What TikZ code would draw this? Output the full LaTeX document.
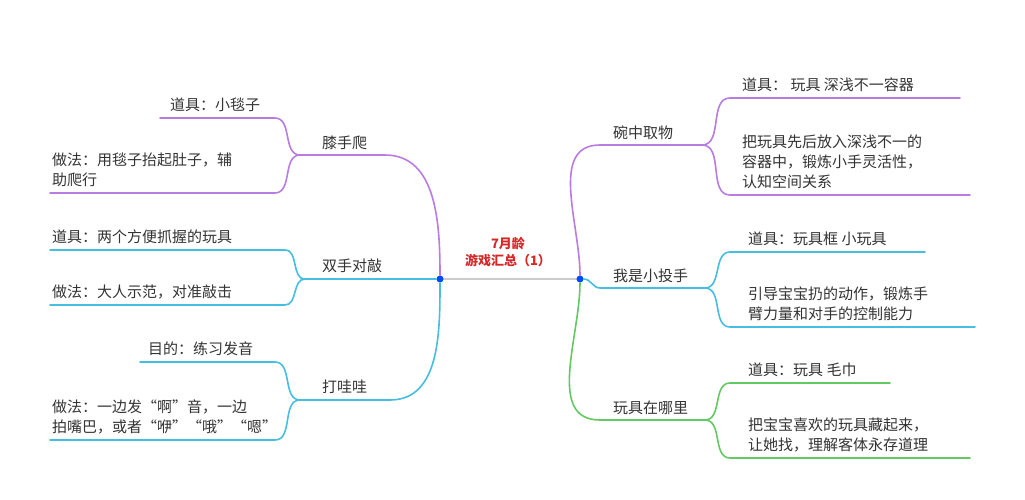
\documentclass[tikz,border=0pt]{standalone}
\usepackage{fontspec}
\setmainfont{Noto Sans CJK SC}
\definecolor{mpurple}{RGB}{185,125,225}
\definecolor{mcyan}{RGB}{70,190,225}
\definecolor{mgreen}{RGB}{100,200,100}
\definecolor{mred}{RGB}{215,40,40}
\tikzset{
  txt/.style={font=\fontsize{15}{20}\selectfont, text=black!80, inner sep=0pt, align=left},
  lab/.style={txt, anchor=south west},
  branch/.style={line width=1.6pt, line cap=round},
  dot/.style={circle, fill=blue!70!cyan, inner sep=0pt, minimum size=7pt}
}
\begin{document}
\begin{tikzpicture}[x=1pt,y=-1pt]
\useasboundingbox (0,0) rectangle (1025,500);
% center
\draw[line width=2pt, gray!40] (440,279) -- (580,279);
\node[dot] (L) at (440,279) {};
\node[dot] (R) at (580,279) {};
\node[font=\fontsize{13}{17}\selectfont\bfseries, text=mred, align=center] (title) at (508,252) {7月龄\\游戏汇总（1）};
% left branches
\coordinate (a1) at (385,155); \coordinate (a0) at (300,155);
\coordinate (b1) at (400,279); \coordinate (b0) at (305,279);
\coordinate (c1) at (390,400); \coordinate (c0) at (300,400);
\draw[branch,mpurple] (L) to[out=90,in=0] (a1) -- (a0);
\draw[branch,mcyan] (L) -- (b1) -- (b0);
\draw[branch,mcyan] (L) to[out=-90,in=0] (c1) -- (c0);
\node[lab] (xpa) at (322,150) {膝手爬};
\node[lab] (ssdq) at (322,273) {双手对敲};
\node[lab] (dww) at (322,394) {打哇哇};
% left leaves
\draw[branch,mpurple] (a0) to[out=180,in=0] (275,118) -- (160,118);
\draw[branch,mpurple] (a0) to[out=180,in=0] (275,193) -- (50,193);
\draw[branch,mcyan] (b0) to[out=180,in=0] (285,250) -- (50,250);
\draw[branch,mcyan] (b0) to[out=180,in=0] (285,305) -- (50,305);
\draw[branch,mcyan] (c0) to[out=180,in=0] (275,362) -- (140,362);
\draw[branch,mcyan] (c0) to[out=180,in=0] (275,440) -- (50,440);
\node[lab] (a1t) at (170,112) {道具：小毯子};
\node[lab] (a2t) at (52,187) {做法：用毯子抬起肚子，辅\\助爬行};
\node[lab] (b1t) at (52,244) {道具：两个方便抓握的玩具};
\node[lab] (b2t) at (52,299) {做法：大人示范，对准敲击};
\node[lab] (c1t) at (148,356) {目的：练习发音};
\node[lab] (c2t) at (52,434) {做法：一边发“啊”音，一边\\拍嘴巴，或者“咿”“哦”“嗯”};
% right branches
\coordinate (d1) at (600,145); \coordinate (d0) at (702,145);
\coordinate (e1) at (600,288); \coordinate (e0) at (705,288);
\coordinate (f1) at (600,420); \coordinate (f0) at (705,420);
\draw[branch,mpurple] (R) to[out=90,in=180] (d1) -- (d0);
\draw[branch,mcyan] (R) to[out=0,in=180] (e1) -- (e0);
\draw[branch,mgreen] (R) to[out=-90,in=180] (f1) -- (f0);
\node[lab] (wzqw) at (613,140) {碗中取物};
\node[lab] (wsxts) at (613,283) {我是小投手};
\node[lab] (wjznl) at (613,415) {玩具在哪里};
% right leaves
\draw[branch,mpurple] (d0) to[out=0,in=180] (730,98) -- (960,98);
\draw[branch,mpurple] (d0) to[out=0,in=180] (730,195) -- (970,195);
\draw[branch,mcyan] (e0) to[out=0,in=180] (730,252) -- (925,252);
\draw[branch,mcyan] (e0) to[out=0,in=180] (730,327) -- (975,327);
\draw[branch,mgreen] (f0) to[out=0,in=180] (730,383) -- (890,383);
\draw[branch,mgreen] (f0) to[out=0,in=180] (730,458) -- (970,458);
\node[lab] (d1t) at (742,92) {道具：\ 玩具 深浅不一容器};
\node[lab] (d2t) at (742,189) {把玩具先后放入深浅不一的\\容器中，锻炼小手灵活性，\\认知空间关系};
\node[lab] (e1t) at (748,246) {道具：玩具框 小玩具};
\node[lab] (e2t) at (748,321) {引导宝宝扔的动作，锻炼手\\臂力量和对手的控制能力};
\node[lab] (f1t) at (748,377) {道具：玩具 毛巾};
\node[lab] (f2t) at (748,452) {把宝宝喜欢的玩具藏起来，\\让她找，理解客体永存道理};
\end{tikzpicture}
\end{document}
